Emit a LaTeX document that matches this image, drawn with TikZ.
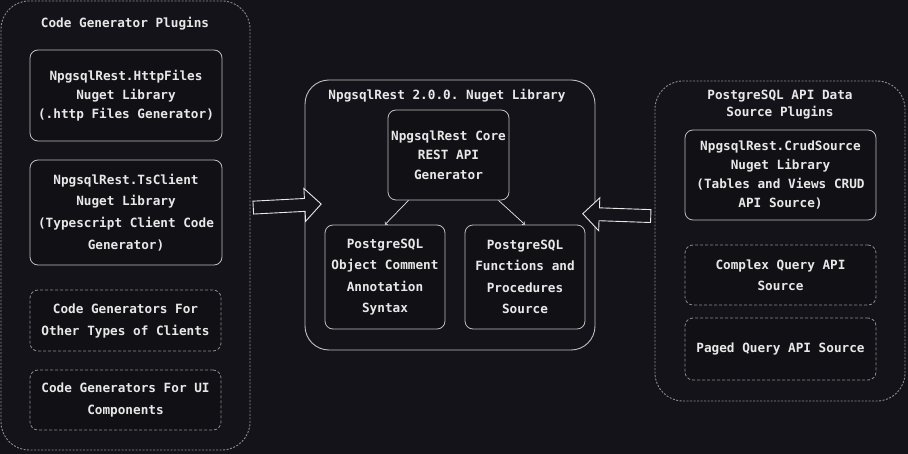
\documentclass[tikz,border=0pt]{standalone}
\usepackage{fontspec}
\setmonofont{DejaVu Sans Mono}
\usetikzlibrary{shapes.arrows}
\definecolor{bg}{RGB}{20,19,26}
\definecolor{boxbg}{RGB}{17,16,21}
\definecolor{ink}{RGB}{232,232,232}
\definecolor{edge}{RGB}{190,190,190}
\definecolor{dash}{RGB}{140,140,140}
\tikzset{
  lib/.style={draw=edge, line width=0.8pt, rounded corners=8pt, fill=boxbg, inner sep=0pt, align=center},
  plug/.style={lib, draw=dash, dash pattern=on 3pt off 2pt},
  group/.style={draw=dash, line width=0.9pt, dash pattern=on 2pt off 1.5pt, rounded corners=28pt, inner sep=0pt},
  fat/.style={single arrow, draw=ink, line width=0.9pt, fill=bg, inner xsep=0pt, inner ysep=6pt, minimum height=68pt, single arrow head extend=10pt}
}
\begin{document}
\begin{tikzpicture}[x=1pt, y=-1pt, font=\ttfamily\bfseries\fontsize{12.7}{20.5}\selectfont, text=ink]
\fill[bg] (0,0) rectangle (908,454);
% groups
\draw(125.5,225.5) node[group, minimum width=249pt, minimum height=449pt] (gen) {};
\draw(450,215) node[group, draw=edge, solid, rounded corners=24pt, minimum width=290pt, minimum height=270pt] (lib) {};
\draw(780,241) node[group, minimum width=250pt, minimum height=320pt] (src) {};
\draw(125,24) node (genT) {Code Generator Plugins};
\draw(447,96) node (libT) {NpgsqlRest 2.0.0. Nuget Library};
\draw(780,104.5) node[align=center, font=\ttfamily\bfseries\fontsize{12.7}{17}\selectfont] (srcT) {PostgreSQL API Data\\Source Plugins};
% generator plugins
\draw(126,95.5) node[lib, minimum width=192pt, minimum height=91pt, font=\ttfamily\bfseries\fontsize{12.7}{19}\selectfont] (http) {NpgsqlRest.HttpFiles\\Nuget Library\\(.http Files Generator)};
\draw(126,212.5) node[lib, minimum width=192pt, minimum height=105pt, font=\ttfamily\bfseries\fontsize{12.7}{21.7}\selectfont] (ts) {NpgsqlRest.TsClient\\Nuget Library\\(Typescript Client Code\\Generator)};
\draw(125.5,320.5) node[plug, minimum width=191pt, minimum height=61pt, font=\ttfamily\bfseries\fontsize{12.7}{22}\selectfont] (other) {Code Generators For\\Other Types of Clients};
\draw(125.5,400) node[plug, minimum width=191pt, minimum height=60pt, font=\ttfamily\bfseries\fontsize{12.7}{22}\selectfont] (ui) {Code Generators For UI\\Components};
% core library
\draw(448.5,155) node[lib, minimum width=121pt, minimum height=90pt, font=\ttfamily\bfseries\fontsize{12.7}{19.5}\selectfont] (core) {NpgsqlRest Core\\REST API\\Generator};
\draw(385,277) node[lib, minimum width=120pt, minimum height=104pt, font=\ttfamily\bfseries\fontsize{12.7}{21.3}\selectfont] (cmt) {PostgreSQL\\Object Comment\\Annotation\\Syntax};
\draw(525,277) node[lib, minimum width=120pt, minimum height=104pt, font=\ttfamily\bfseries\fontsize{12.7}{21.3}\selectfont] (fn) {PostgreSQL\\Functions and\\Procedures\\Source};
\draw[->, draw=ink, line width=0.7pt] ([xshift=-40pt]core.south) -- (cmt.north);
\draw[->, draw=ink, line width=0.7pt] ([xshift=50pt]core.south) -- (fn.north);
% data source plugins
\draw(780.5,175) node[lib, minimum width=191pt, minimum height=90pt, font=\ttfamily\bfseries\fontsize{12.7}{19}\selectfont] (crud) {NpgsqlRest.CrudSource\\Nuget Library\\(Tables and Views CRUD\\API Source)};
\draw(780.5,275) node[plug, minimum width=191pt, minimum height=60pt, font=\ttfamily\bfseries\fontsize{12.7}{21}\selectfont] (cplx) {Complex Query API\\Source};
\draw(780.5,349) node[plug, minimum width=191pt, minimum height=62pt] (paged) {Paged Query API Source};
% fat arrows
\draw(284,206) node[fat, minimum width=32pt, rotate=3] (genIn) {};
\draw(620,215) node[fat, minimum width=30pt, shape border rotate=180, rotate=-2] (srcIn) {};
\end{tikzpicture}
\end{document}
